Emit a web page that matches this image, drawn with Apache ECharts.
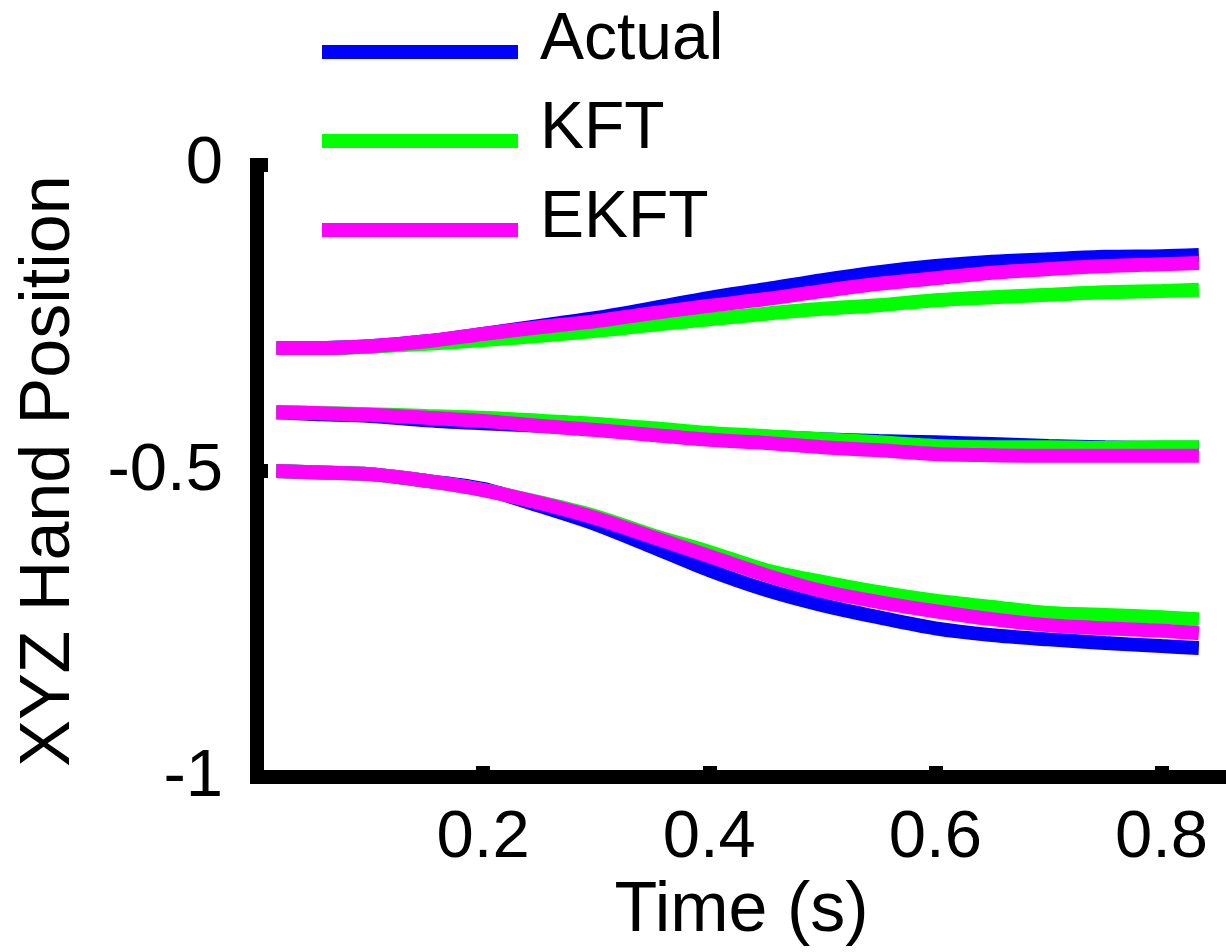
<!DOCTYPE html>
<html>
<head>
<meta charset="utf-8">
<script src="https://cdn.jsdelivr.net/npm/echarts@6/dist/echarts.min.js"></script>
<style>
html,body{margin:0;padding:0;background:#fff;}
#chart{width:1226px;height:952px;}
</style>
</head>
<body>
<div id="chart"></div>
<script>
const time = [0.017, 0.05, 0.1, 0.15, 0.2, 0.25, 0.3, 0.35, 0.4, 0.45, 0.5, 0.55, 0.6, 0.65, 0.7, 0.75, 0.8, 0.833];

const actualTop = [-0.299,-0.299,-0.296,-0.288,-0.276,-0.263,-0.250,-0.234,-0.217,-0.203,-0.188,-0.175,-0.165,-0.158,-0.154,-0.150,-0.149,-0.147];
const kftTop    = [-0.299,-0.299,-0.297,-0.292,-0.286,-0.279,-0.271,-0.261,-0.252,-0.243,-0.235,-0.229,-0.221,-0.216,-0.212,-0.208,-0.206,-0.204];
const ekftTop   = [-0.299,-0.299,-0.296,-0.288,-0.276,-0.265,-0.255,-0.242,-0.230,-0.219,-0.206,-0.194,-0.185,-0.176,-0.170,-0.165,-0.162,-0.160];

const actualMid = [-0.404,-0.407,-0.410,-0.417,-0.422,-0.426,-0.431,-0.436,-0.441,-0.444,-0.448,-0.451,-0.453,-0.456,-0.459,-0.461,-0.462,-0.462];
const kftMid    = [-0.404,-0.405,-0.407,-0.410,-0.413,-0.418,-0.423,-0.430,-0.438,-0.443,-0.448,-0.453,-0.459,-0.461,-0.461,-0.462,-0.461,-0.461];
const ekftMid   = [-0.404,-0.405,-0.408,-0.413,-0.418,-0.426,-0.433,-0.441,-0.449,-0.454,-0.461,-0.466,-0.472,-0.474,-0.475,-0.475,-0.475,-0.475];

const actualBot = [-0.500,-0.502,-0.505,-0.516,-0.529,-0.557,-0.587,-0.624,-0.662,-0.694,-0.719,-0.739,-0.757,-0.768,-0.775,-0.781,-0.786,-0.789];
const kftBot    = [-0.500,-0.502,-0.505,-0.516,-0.531,-0.551,-0.574,-0.605,-0.632,-0.662,-0.681,-0.698,-0.712,-0.722,-0.732,-0.735,-0.739,-0.742];
const ekftBot   = [-0.500,-0.502,-0.505,-0.516,-0.531,-0.552,-0.577,-0.608,-0.639,-0.670,-0.696,-0.714,-0.729,-0.742,-0.752,-0.757,-0.761,-0.765];

const seriesNames = ['Actual', 'KFT', 'EKFT'];
const seriesColors = ['#0000ff', '#00ff00', '#ff00ff'];
const xTicks = [0.2, 0.4, 0.6, 0.8];

const groups = [
  [actualTop, actualMid, actualBot],
  [kftTop, kftMid, kftBot],
  [ekftTop, ekftMid, ekftBot]
];

const FONT = "'Liberation Sans', Arial, Helvetica, sans-serif";

const series = [];
groups.forEach((lines, gi) => {
  lines.forEach(vals => {
    series.push({
      type: 'line',
      name: seriesNames[gi],
      data: time.map((t, i) => [t, vals[i]]),
      symbol: 'none',
      smooth: 0.3,
      z: 2 + gi,
      lineStyle: { width: 14, color: seriesColors[gi], cap: 'butt' },
      itemStyle: { color: seriesColors[gi] },
      emphasis: { disabled: true }
    });
  });
});

const chart = echarts.init(document.getElementById('chart'), null, { renderer: 'canvas' });
chart.setOption({
  animation: false,
  backgroundColor: '#ffffff',
  legend: {
    data: seriesNames,
    orient: 'vertical',
    left: 322,
    top: 8,
    padding: 0,
    itemGap: 1,
    icon: 'rect',
    itemWidth: 196,
    itemHeight: 14,
    selectedMode: false,
    formatter: function (name) { return name + '\n'; },
    textStyle: { fontSize: 66, fontFamily: FONT, color: '#000', lineHeight: 22, padding: [0, 0, 0, 17] }
  },
  grid: { left: 257, right: 0, top: 165, bottom: 173, containLabel: false },
  xAxis: {
    type: 'value',
    min: 0,
    max: 0.857,
    name: 'Time (s)',
    nameLocation: 'middle',
    nameGap: 78,
    nameTextStyle: { fontSize: 70, fontFamily: FONT, color: '#000' },
    axisLine: { show: true, onZero: false, lineStyle: { color: '#000', width: 14, cap: 'square' } },
    axisTick: { show: true, inside: true, length: 11, customValues: xTicks, lineStyle: { color: '#000', width: 14 } },
    axisLabel: { show: true, customValues: xTicks, margin: 28, fontSize: 67, fontFamily: FONT, color: '#000' },
    splitLine: { show: false }
  },
  yAxis: {
    type: 'value',
    min: -1,
    max: 0,
    interval: 0.5,
    name: 'XYZ Hand Position',
    nameLocation: 'middle',
    nameGap: 172,
    nameRotate: 90,
    nameTextStyle: { fontSize: 70, fontFamily: FONT, color: '#000' },
    axisLine: { show: true, onZero: false, lineStyle: { color: '#000', width: 14, cap: 'square' } },
    axisTick: { show: true, inside: true, length: 11, lineStyle: { color: '#000', width: 14 } },
    axisLabel: { show: true, margin: 34, fontSize: 67, fontFamily: FONT, color: '#000' },
    splitLine: { show: false }
  },
  series: series
});
</script>
</body>
</html>
